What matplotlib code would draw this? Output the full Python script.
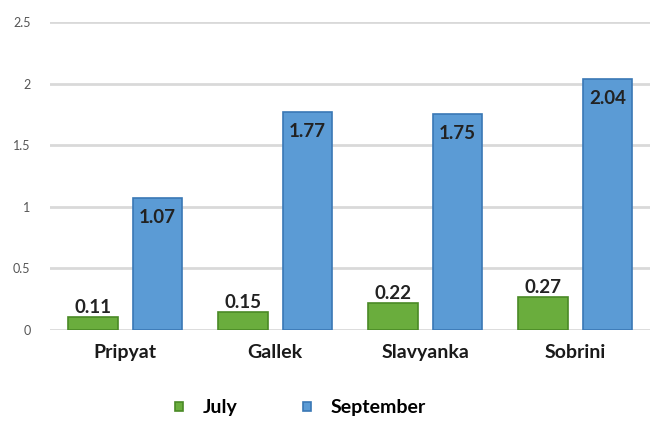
import numpy as np
import matplotlib
matplotlib.use("Agg")
import matplotlib.pyplot as plt

plt.rcParams['font.family'] = ['Lato', 'DejaVu Sans']

sites = ["Pripyat", "Gallek", "Slavyanka", "Sobrini"]
july = [0.11, 0.15, 0.22, 0.27]
september = [1.07, 1.77, 1.75, 2.04]

fig = plt.figure(figsize=(6.58, 4.21), dpi=100)
ax = fig.add_axes([0.076, 0.216, 0.912, 0.732])

index = np.arange(len(sites))
w = 0.33
off = 0.215
b1 = ax.bar(index - off, july, w, color="#6aad3d", edgecolor="#4a8a26", linewidth=1.2, label="July", zorder=3)
b2 = ax.bar(index + off, september, w, color="#5b9bd5", edgecolor="#3a78b5", linewidth=1.2, label="September", zorder=3)

for i, v in enumerate(july):
    ax.text(index[i] - off, v + 0.005, "{:.2f}".format(v), ha="center", va="bottom",
            fontsize=13.5, fontweight="bold", color="#222222", zorder=4)
for i, v in enumerate(september):
    ax.text(index[i] + off, v - 0.09, "{:.2f}".format(v), ha="center", va="top",
            fontsize=13.5, fontweight="bold", color="#222222", zorder=4)

ax.set_xlim(-0.5, 3.5)
ax.set_ylim(0, 2.5)
ax.set_yticks([0, 0.5, 1, 1.5, 2, 2.5])
ax.set_yticklabels(["0", "0.5", "1", "1.5", "2", "2.5"], fontsize=9, color="#555555")
ax.set_xticks(index)
ax.set_xticklabels(sites, fontsize=14, fontweight="bold", color="#1a1a1a")
ax.tick_params(axis="both", length=0)
ax.tick_params(axis="x", pad=10)
ax.tick_params(axis="y", pad=14)
ax.yaxis.grid(True, color="#d9d9d9", linewidth=2, zorder=0)
for s in ax.spines.values():
    s.set_visible(False)

fig.legend(handles=[b1, b2], labels=["July", "September"], loc="center left",
           bbox_to_anchor=(0.266, 0.031), ncol=2, frameon=False, handlelength=0.4,
           handleheight=0.4, handletextpad=1.0, columnspacing=3.4,
           borderpad=0, borderaxespad=0,
           prop={"weight": "bold", "size": 14})

plt.savefig("out.png")
